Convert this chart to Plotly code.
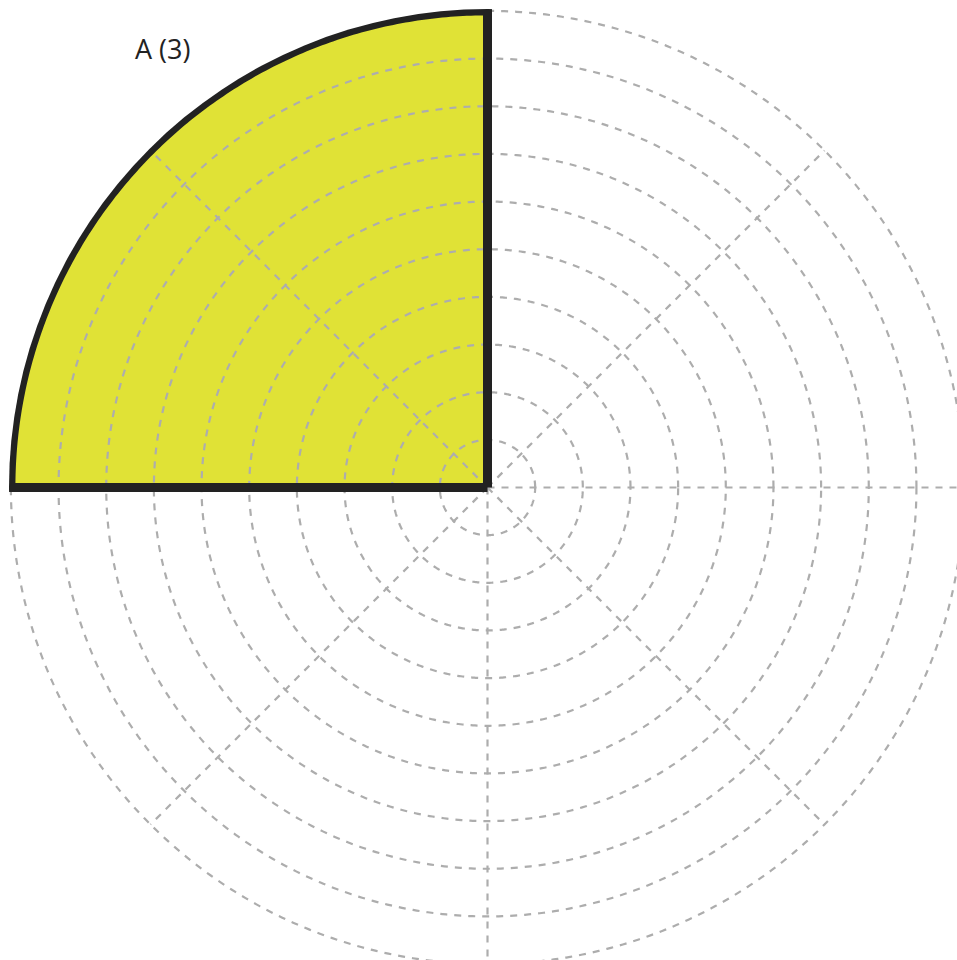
import numpy as np
import plotly.graph_objects as go

categories = ["A"]
values = [3]
sector_centers = [135]
sector_widths = [90]
ring_count = 10
spoke_angles = [0, 45, 90, 135, 180, 225, 270, 315]

rmax = max(values)
ring_vals = [rmax * (i + 1) / ring_count for i in range(ring_count)]

W = H = 975
ml, mt, mr, mb = 9, 9, 9, 9

grid_color = "#adadad"
dash = "7px,7px"
grid_w = 2.2

fig = go.Figure()
# sector fill
fig.add_trace(go.Barpolar(
    r=values, theta=sector_centers, width=sector_widths,
    marker=dict(color="#e0e236", line=dict(width=0)),
    hoverinfo="skip",
))

# grid rings and spokes, drawn above the fill
circ = np.linspace(0, 360, 721)
for rv in ring_vals:
    fig.add_trace(go.Scatterpolar(
        r=[rv] * len(circ), theta=circ, mode="lines",
        line=dict(color=grid_color, width=grid_w, dash=dash),
        hoverinfo="skip",
    ))
for a in spoke_angles:
    fig.add_trace(go.Scatterpolar(
        r=[0, rmax], theta=[a, a], mode="lines",
        line=dict(color=grid_color, width=grid_w, dash=dash),
        hoverinfo="skip",
    ))

# sector outline on top
for v, c, w in zip(values, sector_centers, sector_widths):
    arc = np.linspace(c - w / 2, c + w / 2, 181)
    th = np.concatenate([[c - w / 2], arc, [c + w / 2, c - w / 2]])
    rr = np.concatenate([[0], [v] * len(arc), [0, 0]])
    fig.add_trace(go.Scatterpolar(
        r=rr, theta=th, mode="lines",
        line=dict(color="#222222", width=9),
        hoverinfo="skip",
    ))

fig.update_layout(
    width=W, height=H,
    margin=dict(l=ml, t=mt, r=mr, b=mb, pad=0),
    paper_bgcolor="white",
    showlegend=False,
    polar=dict(
        bgcolor="white",
        domain=dict(x=[0, 1], y=[0, 1]),
        radialaxis=dict(
            range=[0, rmax * 1.004], showticklabels=False, ticks="",
            showline=False, showgrid=False,
        ),
        angularaxis=dict(
            showticklabels=False, ticks="", showline=False, showgrid=False,
        ),
    ),
)

label_x, label_y = 162, 49
fig.add_annotation(
    text=f"{categories[0]} ({values[0]})",
    xref="paper", yref="paper",
    x=(label_x - ml) / (W - ml - mr), y=1 - (label_y - mt) / (H - mt - mb),
    showarrow=False, xanchor="center", yanchor="middle",
    font=dict(family="Open Sans", size=27, color="#222222"),
)

fig.write_html(
    "out.html",
    config={"displayModeBar": False},
    post_script="document.body.style.margin='0';document.body.style.overflow='hidden';document.documentElement.style.overflow='hidden';",
)
